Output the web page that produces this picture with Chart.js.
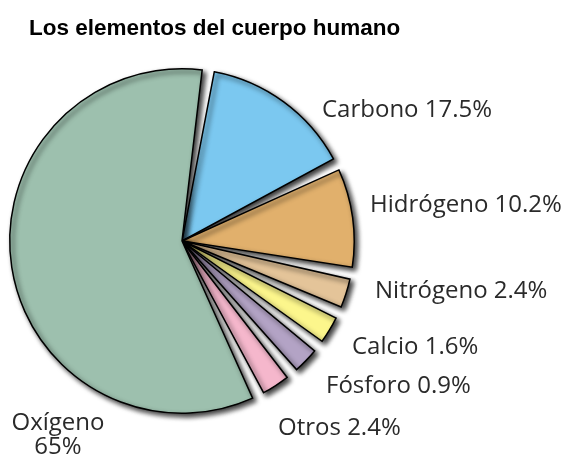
<!DOCTYPE html>
<html>
<head>
<meta charset="utf-8">
<script src="https://cdn.jsdelivr.net/npm/chart.js@4/dist/chart.umd.min.js"></script>
<style>
  html, body { margin: 0; padding: 0; background: #fff; }
  #wrap { position: relative; width: 568px; height: 456px; }
</style>
</head>
<body>
<div id="wrap"><canvas id="pie" width="568" height="456"></canvas></div>
<script>
// --- DATA ---
const titulo = 'Los elementos del cuerpo humano';
const elementos = ['Carbono', 'Hidrógeno', 'Nitrógeno', 'Calcio', 'Fósforo', 'Otros', 'Oxígeno'];
const porcentajes = ['17.5%', '10.2%', '2.4%', '1.6%', '0.9%', '2.4%', '65%'];
// share of the circle each drawn slice takes in the picture (%)
const porcionDibujada = [14.1, 9.2, 2.7, 2.5, 2.4, 2.6, 58.6];

// --- STYLE ---
const colores = ['#7bc8f0', '#e1b06c', '#e4c499', '#fcf68c', '#b3a3c5', '#f5b7cc', '#9dc0ae'];
const LABEL_FONT = '400 24px "Open Sans"';
const TEXT_COLOR = '#2a2a2a';
// left / baseline anchor of each label
const posEtiquetas = [[322, 117], [370, 212], [375, 298], [352, 354], [326, 393], [278, 435]];

// spread the slices apart with an angular gap, keeping the library's proportions
const gapPlugin = {
    id: 'angularGap',
    afterDatasetsUpdate(chart) {
        const arcs = chart.getDatasetMeta(0).data;
        const gap = 4.07 * Math.PI / 180;
        const k = (2 * Math.PI - arcs.length * gap) / (2 * Math.PI);
        let angle = arcs[0].startAngle;
        arcs.forEach(arc => {
            const span = arc.circumference * k;
            arc.startAngle = angle;
            arc.endAngle = angle + span;
            arc.circumference = span;
            angle += span + gap;
        });
    },
    beforeDatasetsDraw(chart) {
        const ctx = chart.ctx;
        ctx.save();
        ctx.shadowColor = 'rgba(0, 0, 0, 0.8)';
        ctx.shadowBlur = 5;
        ctx.shadowOffsetX = 3;
        ctx.shadowOffsetY = 3;
    },
    afterDatasetsDraw(chart) {
        chart.ctx.restore();
    }
};

const labelPlugin = {
    id: 'labels',
    afterDraw(chart) {
        const ctx = chart.ctx;
        ctx.save();
        ctx.fillStyle = '#000';
        ctx.font = 'bold 22.5px "Liberation Sans"';
        ctx.textAlign = 'left';
        ctx.textBaseline = 'alphabetic';
        ctx.fillText(titulo, 29, 35);

        ctx.fillStyle = TEXT_COLOR;
        ctx.font = LABEL_FONT;
        posEtiquetas.forEach(([x, y], i) => {
            ctx.fillText(`${elementos[i]} ${porcentajes[i]}`, x, y);
        });
        // Oxígeno label sits on two centred lines
        const last = elementos.length - 1;
        ctx.textAlign = 'center';
        ctx.fillText(elementos[last], 58, 430);
        ctx.fillText(porcentajes[last], 58, 454);
        ctx.restore();
    }
};

new Chart(document.getElementById('pie'), {
    type: 'pie',
    data: {
        labels: elementos,
        datasets: [{
            data: porcionDibujada,
            backgroundColor: colores,
            borderColor: '#000',
            borderWidth: 1.5,
            borderJoinStyle: 'miter'
        }]
    },
    options: {
        responsive: false,
        animation: false,
        rotation: 10.8,
        layout: { padding: { left: 9, right: 213, top: 68, bottom: 42 } },
        plugins: {
            legend: { display: false },
            tooltip: { enabled: false }
        }
    },
    plugins: [gapPlugin, labelPlugin]
});
</script>
</body>
</html>
